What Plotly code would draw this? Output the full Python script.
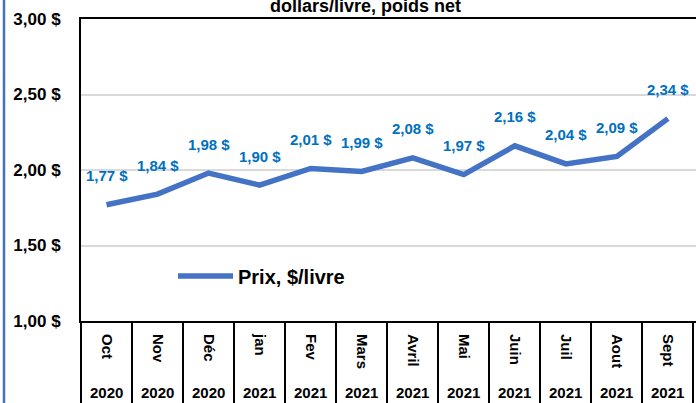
import plotly.graph_objects as go

months = ["Oct", "Nov", "Déc", "jan", "Fev", "Mars", "Avril", "Mai", "Juin", "Juil", "Aout", "Sept"]
years = ["2020", "2020", "2020", "2021", "2021", "2021", "2021", "2021", "2021", "2021", "2021", "2021"]
prices = [1.77, 1.84, 1.98, 1.90, 2.01, 1.99, 2.08, 1.97, 2.16, 2.04, 2.09, 2.34]
series_name = "Prix, $/livre"
title_text = "dollars/livre, poids net"

FONT = "Liberation Sans, Arial, sans-serif"
LINE_BLUE = "#4472C4"
LABEL_BLUE = "#0070C0"

W, H = 696, 403
ML, MR, MT, MB = 81, 0, 19, 82
pw = W - ML - MR
ph = H - MT - MB

fig = go.Figure()
fig.add_trace(go.Scatter(
    x=months, y=prices, mode="lines", name=series_name,
    line=dict(color=LINE_BLUE, width=5.5), showlegend=True,
))
# invisible helper trace for separator axis
fig.add_trace(go.Scatter(
    x=months, y=prices, mode="lines", xaxis="x2", yaxis="y",
    line=dict(width=0), opacity=0, showlegend=False, hoverinfo="skip",
))

annotations = []
for m, v in zip(months, prices):
    annotations.append(dict(
        x=m, y=v, xref="x", yref="y", yshift=29, showarrow=False,
        text=f"{v:.2f}".replace(".", ",") + " $",
        font=dict(family=FONT, size=15, color=LABEL_BLUE, weight="bold"),
    ))
for m, yr in zip(months, years):
    annotations.append(dict(
        x=m, y=-(393 - (H - MB)) / ph, xref="x", yref="paper", yanchor="middle",
        showarrow=False, text=yr,
        font=dict(family=FONT, size=15, color="black", weight="bold"),
    ))
annotations.append(dict(
    x=(365 - ML) / pw, y=1.0, xref="paper", yref="paper", yanchor="bottom",
    yshift=1, showarrow=False, text=title_text,
    font=dict(family=FONT, size=18, color="black", weight="bold"),
))

xrange = [-0.5, len(months) - 0.45]

fig.update_layout(
    width=W, height=H,
    margin=dict(l=ML, r=MR, t=MT, b=MB, autoexpand=False),
    paper_bgcolor="white", plot_bgcolor="white",
    separators=", ",
    font=dict(family=FONT, color="black"),
    xaxis=dict(
        type="category", categoryorder="array", categoryarray=months, range=xrange,
        showline=True, mirror=True, linecolor="black", linewidth=2,
        ticks="", tickangle=90, showgrid=False, zeroline=False, automargin=False,
        tickfont=dict(family=FONT, size=15, color="black", weight="bold"),
        ticklabelstandoff=8,
    ),
    xaxis2=dict(
        type="category", categoryorder="array", categoryarray=months, range=xrange,
        overlaying="x", anchor="y", side="bottom", matches="x", automargin=False,
        showline=False, showgrid=False, zeroline=False,
        ticks="outside", ticklen=MB, tickwidth=2, tickcolor="black",
        tickson="boundaries", showticklabels=False,
    ),
    yaxis=dict(
        range=[1, 3], dtick=0.5, tick0=1, tickformat=".2f", ticksuffix=" $",
        showline=True, linecolor="black", linewidth=2, ticks="", automargin=False,
        showgrid=True, gridcolor="#d9d9d9", gridwidth=1.5, zeroline=False,
        tickfont=dict(family=FONT, size=17, color="black", weight="bold"),
        ticklabelstandoff=15,
    ),
    legend=dict(
        x=(173 - ML) / pw, y=(H - MB - 276) / ph, xanchor="left", yanchor="middle",
        bgcolor="rgba(0,0,0,0)", borderwidth=0, itemwidth=55,
        font=dict(family=FONT, size=20, color="black", weight="bold"),
    ),
    annotations=annotations,
    shapes=[dict(
        type="line", xref="paper", yref="paper",
        x0=(4 - ML) / pw, x1=(4 - ML) / pw, y0=-0.4, y1=1.2,
        line=dict(color=LINE_BLUE, width=2.5),
    )],
)

fig.write_html(
    "out.html",
    config={"displayModeBar": False},
    post_script="document.body.style.margin='0px';document.body.style.overflow='hidden';",
)
